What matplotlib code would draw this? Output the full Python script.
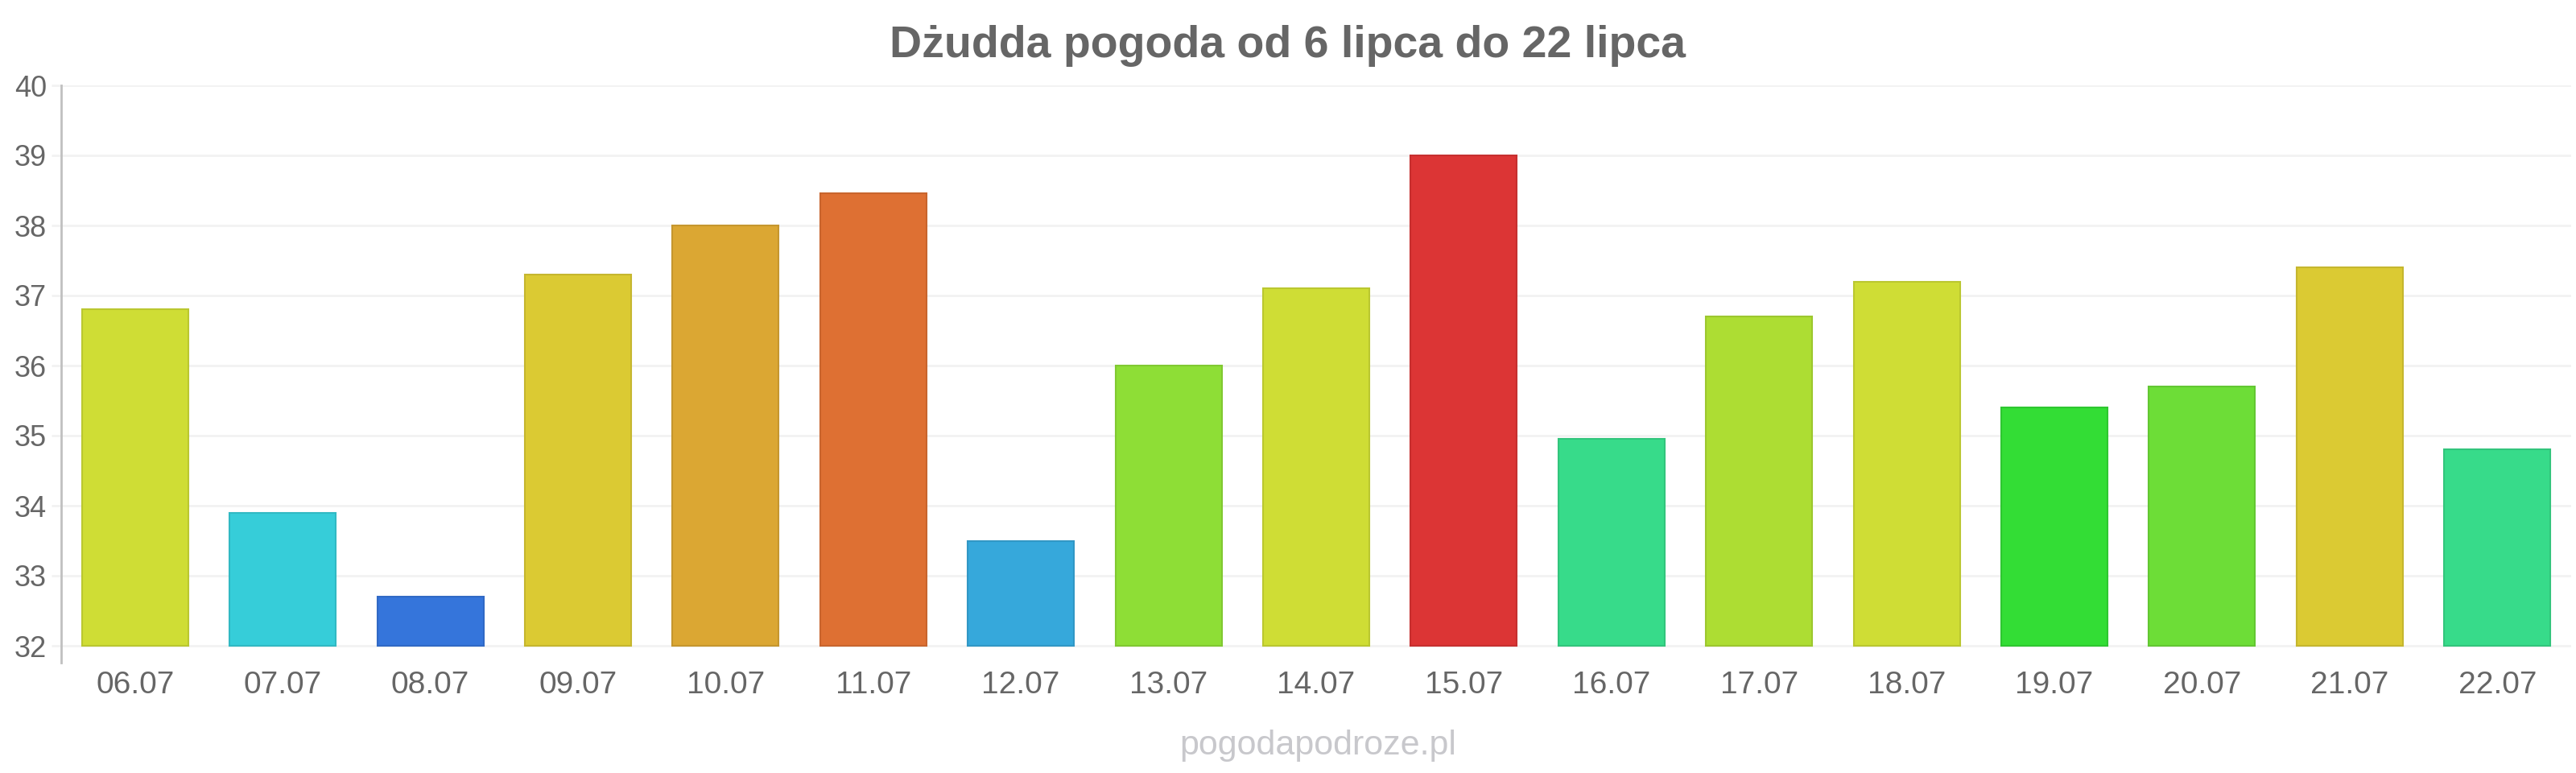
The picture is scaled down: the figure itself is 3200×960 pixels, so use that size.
import matplotlib
matplotlib.use("Agg")
import matplotlib.pyplot as plt
from matplotlib.colors import to_rgb

plt.rcParams['font.family'] = ['Liberation Sans', 'DejaVu Sans']

title = "Dżudda pogoda od 6 lipca do 22 lipca"
watermark = "pogodapodroze.pl"
dates = ["06.07", "07.07", "08.07", "09.07", "10.07", "11.07", "12.07", "13.07",
         "14.07", "15.07", "16.07", "17.07", "18.07", "19.07", "20.07", "21.07", "22.07"]
temps = [36.8, 33.9, 32.7, 37.3, 38.0, 38.46, 33.5, 36.0,
         37.1, 39.0, 34.95, 36.7, 37.2, 35.4, 35.7, 37.4, 34.8]
colors = ["#cfdd35", "#36cdd9", "#3575db", "#dbca33", "#dba733", "#de7033", "#36a8db", "#8ede36",
          "#cfdd35", "#dc3535", "#37db8a", "#addd33", "#cfdd35", "#33dd35", "#6ddd37", "#dbca33", "#37db8a"]
yticks = [32, 33, 34, 35, 36, 37, 38, 39, 40]
base = 32

W, H = 3200, 960
fig = plt.figure(figsize=(W / 100, H / 100), dpi=100)
left, right = 76 / W, 3194 / W
ytop, ybot = 106, 823
ax = fig.add_axes([left, (H - ybot) / H, right - left, (ybot - ytop) / H])

edges = [tuple(c * 0.9 for c in to_rgb(col)) for col in colors]
x = list(range(len(dates)))
heights = [t - base for t in temps]
ax.bar(x, heights, bottom=base, width=0.72, color=colors, edgecolor=edges, linewidth=1.5, zorder=3)

ax.set_xlim(-0.5, len(dates) - 0.5)
ax.set_ylim(32 - 21 / 87, 40)
ax.set_yticks(yticks)
ax.set_yticklabels([str(v) for v in yticks])
ax.set_xticks(x)
ax.set_xticklabels(dates)
ax.grid(axis='y', color='#f2f2f2', linewidth=2, zorder=0)
ax.grid(axis='x', visible=False)
for s in ['top', 'right', 'bottom']:
    ax.spines[s].set_visible(False)
ax.spines['left'].set_color('#c0c0c0')
ax.spines['left'].set_linewidth(2)
ax.tick_params(axis='y', length=9, width=2, color='#f2f2f2', labelsize=26, labelcolor='#666666', pad=4)
ax.tick_params(axis='x', length=0, labelsize=28, labelcolor='#666666', pad=7)

fig.text(0.4997, 1 - 57 / H, title, ha='center', va='center', fontsize=40, fontweight='bold', color='#666666')
fig.text(0.5115, 1 - 926 / H, watermark, ha='center', va='center', fontsize=31, color='#c8c8cc')

fig.savefig("out.png", dpi=100, facecolor='white')
